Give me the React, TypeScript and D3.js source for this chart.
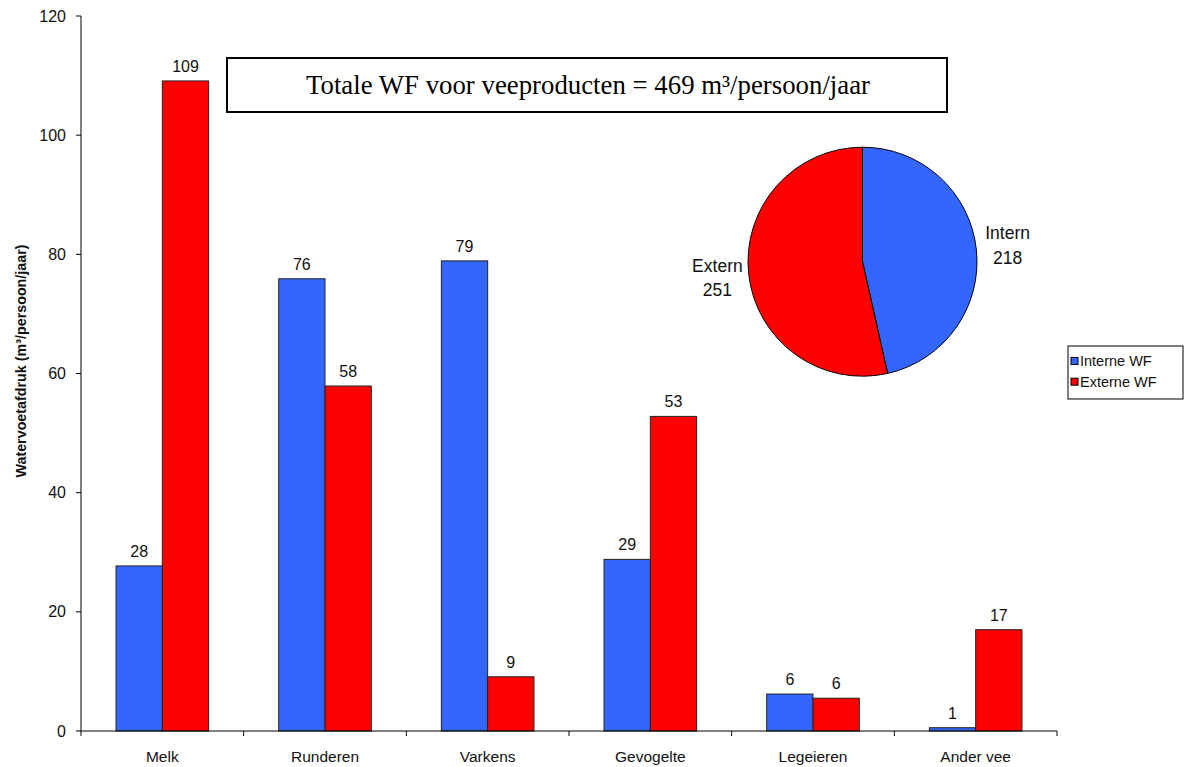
import React from "react";
import * as d3 from "d3";

// Watervoetafdruk per veeproduct (m3/persoon/jaar)
const categories = ["Melk", "Runderen", "Varkens", "Gevogelte", "Legeieren", "Ander vee"];
const interneWF = [27.7, 75.9, 78.9, 28.8, 6.2, 0.55];
const externeWF = [109.1, 57.9, 9.1, 52.8, 5.5, 17.0];
const series = ["Interne WF", "Externe WF"];
const colors = ["#3366FF", "#FF0000"];
const yTicks = [0, 20, 40, 60, 80, 100, 120];

// pie totaal
const pieLabels = ["Intern", "Extern"];
const pieValues = [218, 251];

const W = 1185;
const H = 767;

export default function App() {
  const x = d3.scaleBand().domain(categories).range([81, 1057]).paddingInner(0).paddingOuter(0);
  const xSub = d3.scaleBand().domain(series).range([0, x.bandwidth()]).paddingInner(0).paddingOuter(0.757);
  const y = d3.scaleLinear().domain([0, 120]).range([731, 16]);

  const pieData = d3.pie<number>().sort(null)(pieValues);
  const cx = 862.5;
  const cy = 261.7;
  const r = 114.5;
  const arc = d3.arc<d3.PieArcDatum<number>>().innerRadius(0).outerRadius(r);
  const labelArc = d3.arc<d3.PieArcDatum<number>>().innerRadius(146).outerRadius(146);

  const sans = "Arial, 'Liberation Sans', sans-serif";
  const boundaries = categories.map((c) => x(c)!).concat([x.range()[1]]);

  return (
    <svg width={W} height={H} style={{ position: "absolute", left: 0, top: 0, background: "#fff" }} fontFamily={sans}>
      {/* bars */}
      {categories.map((c, i) =>
        [interneWF[i], externeWF[i]].map((v, j) => {
          const bx = x(c)! + xSub(series[j])!;
          const by = y(v);
          return (
            <g key={c + j}>
              <rect x={bx} y={by} width={xSub.bandwidth()} height={y(0) - by} fill={colors[j]} stroke="#222" strokeWidth={1} />
              <text x={bx + xSub.bandwidth() / 2} y={by - 9} textAnchor="middle" fontSize={16} fill="#111">
                {Math.round(v)}
              </text>
            </g>
          );
        })
      )}

      {/* y axis */}
      <line x1={81} x2={81} y1={y(120)} y2={y(0)} stroke="#000" />
      {yTicks.map((t) => (
        <g key={t}>
          <line x1={76} x2={81} y1={y(t)} y2={y(t)} stroke="#000" />
          <text x={66} y={y(t)} dy="0.35em" textAnchor="end" fontSize={16} fill="#111">
            {t}
          </text>
        </g>
      ))}

      {/* x axis */}
      <line x1={81} x2={1057} y1={y(0)} y2={y(0)} stroke="#000" />
      {boundaries.map((b, i) => (
        <line key={i} x1={b} x2={b} y1={y(0)} y2={y(0) + 5} stroke="#000" />
      ))}
      {categories.map((c) => (
        <text key={c} x={x(c)! + x.bandwidth() / 2} y={757} dy="0.35em" textAnchor="middle" fontSize={15.5} fill="#111">
          {c}
        </text>
      ))}

      {/* y label */}
      <text
        transform={`translate(21, ${361}) rotate(-90)`}
        textAnchor="middle"
        dy="0.35em"
        fontSize={14.3}
        fontWeight="bold"
        fill="#111"
      >
        Watervoetafdruk (m³/persoon/jaar)
      </text>

      {/* title box */}
      <rect x={227} y={58} width={720} height={54} fill="#fff" stroke="#000" strokeWidth={2} />
      <text x={588} y={85} dy="0.35em" textAnchor="middle" fontSize={26.8} fontFamily="'Times New Roman', 'Liberation Serif', serif" fill="#000">
        Totale WF voor veeproducten = 469 m³/persoon/jaar
      </text>

      {/* pie */}
      <g transform={`translate(${cx}, ${cy})`}>
        {pieData.map((d, i) => (
          <path key={i} d={arc(d)!} fill={colors[i]} stroke="#000" strokeWidth={1} />
        ))}
        {pieData.map((d, i) => {
          const [lx, ly] = labelArc.centroid(d);
          return (
            <text key={"l" + i} x={lx} y={ly} textAnchor="middle" fontSize={17.5} fill="#111">
              <tspan x={lx} dy="-0.35em">{pieLabels[i]}</tspan>
              <tspan x={lx} dy="1.4em">{pieValues[i]}</tspan>
            </text>
          );
        })}
      </g>

      {/* legend */}
      <rect x={1068} y={346} width={115} height={53} fill="#fff" stroke="#000" strokeWidth={1} />
      {series.map((s, i) => (
        <g key={s}>
          <rect x={1071} y={361 + i * 20.7 - 3.5} width={7} height={7} fill={colors[i]} stroke="#000" strokeWidth={1} />
          <text x={1080} y={361 + i * 20.7} dy="0.35em" fontSize={14.5} fill="#111">
            {s}
          </text>
        </g>
      ))}
    </svg>
  );
}
